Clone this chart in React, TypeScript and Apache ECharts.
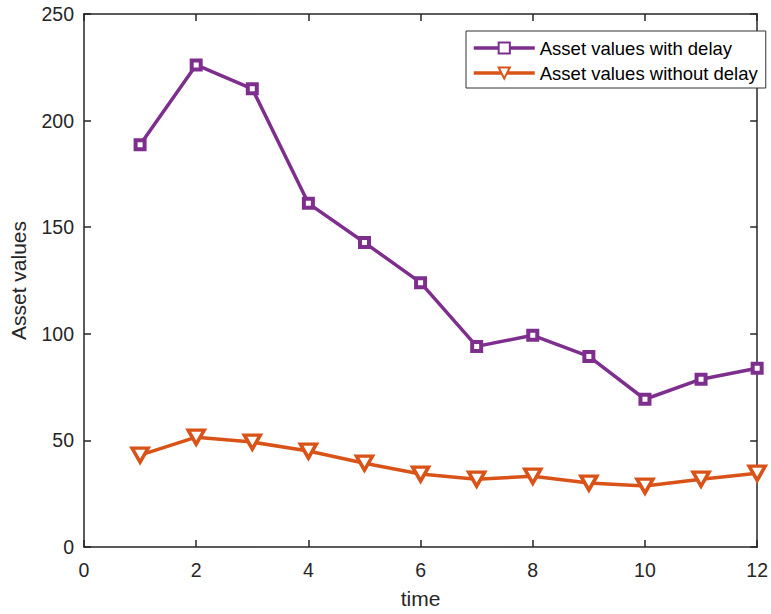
import React, { useEffect, useRef } from "react";
import * as echarts from "echarts";

const timePoints = [1, 2, 3, 4, 5, 6, 7, 8, 9, 10, 11, 12];
const withDelay = [188.7, 226.1, 214.9, 161.2, 142.8, 124.0, 94.1, 99.3, 89.4, 69.3, 78.7, 83.8];
const withoutDelay = [43.1, 51.5, 49.2, 45.0, 39.3, 34.2, 31.8, 33.2, 30.0, 28.6, 31.8, 34.6];
const seriesNames = ["Asset values with delay", "Asset values without delay"];
const xLabel = "time";
const yLabel = "Asset values";

const FONT = "'Liberation Sans', Arial, Helvetica, sans-serif";
const AXIS_COLOR = "#262626";
const PURPLE = "#7E2F8E";
const ORANGE = "#D95319";

export default function App() {
  const ref = useRef<HTMLDivElement>(null);
  useEffect(() => {
    if (!ref.current) return;
    const chart = echarts.init(ref.current, undefined, { renderer: "svg" });
    const axisLine = { show: true, onZero: false, lineStyle: { color: AXIS_COLOR, width: 1.5 } };
    const tick = { show: true, inside: true, length: 7, lineStyle: { color: AXIS_COLOR, width: 1.5 } };
    chart.setOption({
      animation: false,
      backgroundColor: "#ffffff",
      grid: { left: 83, top: 14, right: 13, bottom: 66, containLabel: false },
      legend: {
        orient: "vertical",
        left: 466,
        top: 31,
        itemWidth: 61,
        itemHeight: 14,
        itemGap: 5,
        padding: [7, 8, 5, 6],
        borderColor: "#333333",
        borderWidth: 1,
        borderRadius: 0,
        backgroundColor: "#ffffff",
        lineStyle: { width: 3.5 },
        textStyle: { fontFamily: FONT, fontSize: 18.5, lineHeight: 20, color: "#000000" },
        data: seriesNames,
      },
      xAxis: [
        {
          type: "value",
          min: 0,
          max: 12,
          interval: 2,
          name: xLabel,
          nameLocation: "middle",
          nameGap: 41,
          nameTextStyle: { fontFamily: FONT, fontSize: 21, color: AXIS_COLOR },
          axisLine,
          axisTick: tick,
          axisLabel: { fontFamily: FONT, fontSize: 19.5, color: AXIS_COLOR, margin: 13 },
          splitLine: { show: false },
        },
        {
          type: "value",
          position: "top",
          min: 0,
          max: 12,
          interval: 2,
          axisLine,
          axisTick: tick,
          axisLabel: { show: false },
          splitLine: { show: false },
        },
      ],
      yAxis: [
        {
          type: "value",
          min: 0,
          max: 250,
          interval: 50,
          name: yLabel,
          nameLocation: "middle",
          nameGap: 55,
          nameTextStyle: { fontFamily: FONT, fontSize: 21, color: AXIS_COLOR },
          axisLine,
          axisTick: tick,
          axisLabel: { fontFamily: FONT, fontSize: 19.5, color: AXIS_COLOR, margin: 10 },
          splitLine: { show: false },
        },
        {
          type: "value",
          position: "right",
          min: 0,
          max: 250,
          interval: 50,
          axisLine,
          axisTick: tick,
          axisLabel: { show: false },
          splitLine: { show: false },
        },
      ],
      series: [
        {
          name: seriesNames[0],
          type: "line",
          data: timePoints.map((t, i) => [t, withDelay[i]]),
          symbol: "rect",
          symbolSize: 9,
          color: PURPLE,
          lineStyle: { color: PURPLE, width: 3.5 },
          itemStyle: { color: "#ffffff", borderColor: PURPLE, borderWidth: 4 },
          z: 3,
        },
        {
          name: seriesNames[1],
          type: "line",
          data: timePoints.map((t, i) => [t, withoutDelay[i]]),
          symbol: "triangle",
          symbolRotate: 180,
          symbolSize: [16, 14],
          color: ORANGE,
          lineStyle: { color: ORANGE, width: 3.5 },
          itemStyle: { color: "#ffffff", borderColor: ORANGE, borderWidth: 3.5 },
          z: 3,
        },
      ],
    });
    return () => chart.dispose();
  }, []);
  return (
    <div
      ref={ref}
      style={{ position: "fixed", left: 0, top: 0, width: 771, height: 614 }}
    />
  );
}
